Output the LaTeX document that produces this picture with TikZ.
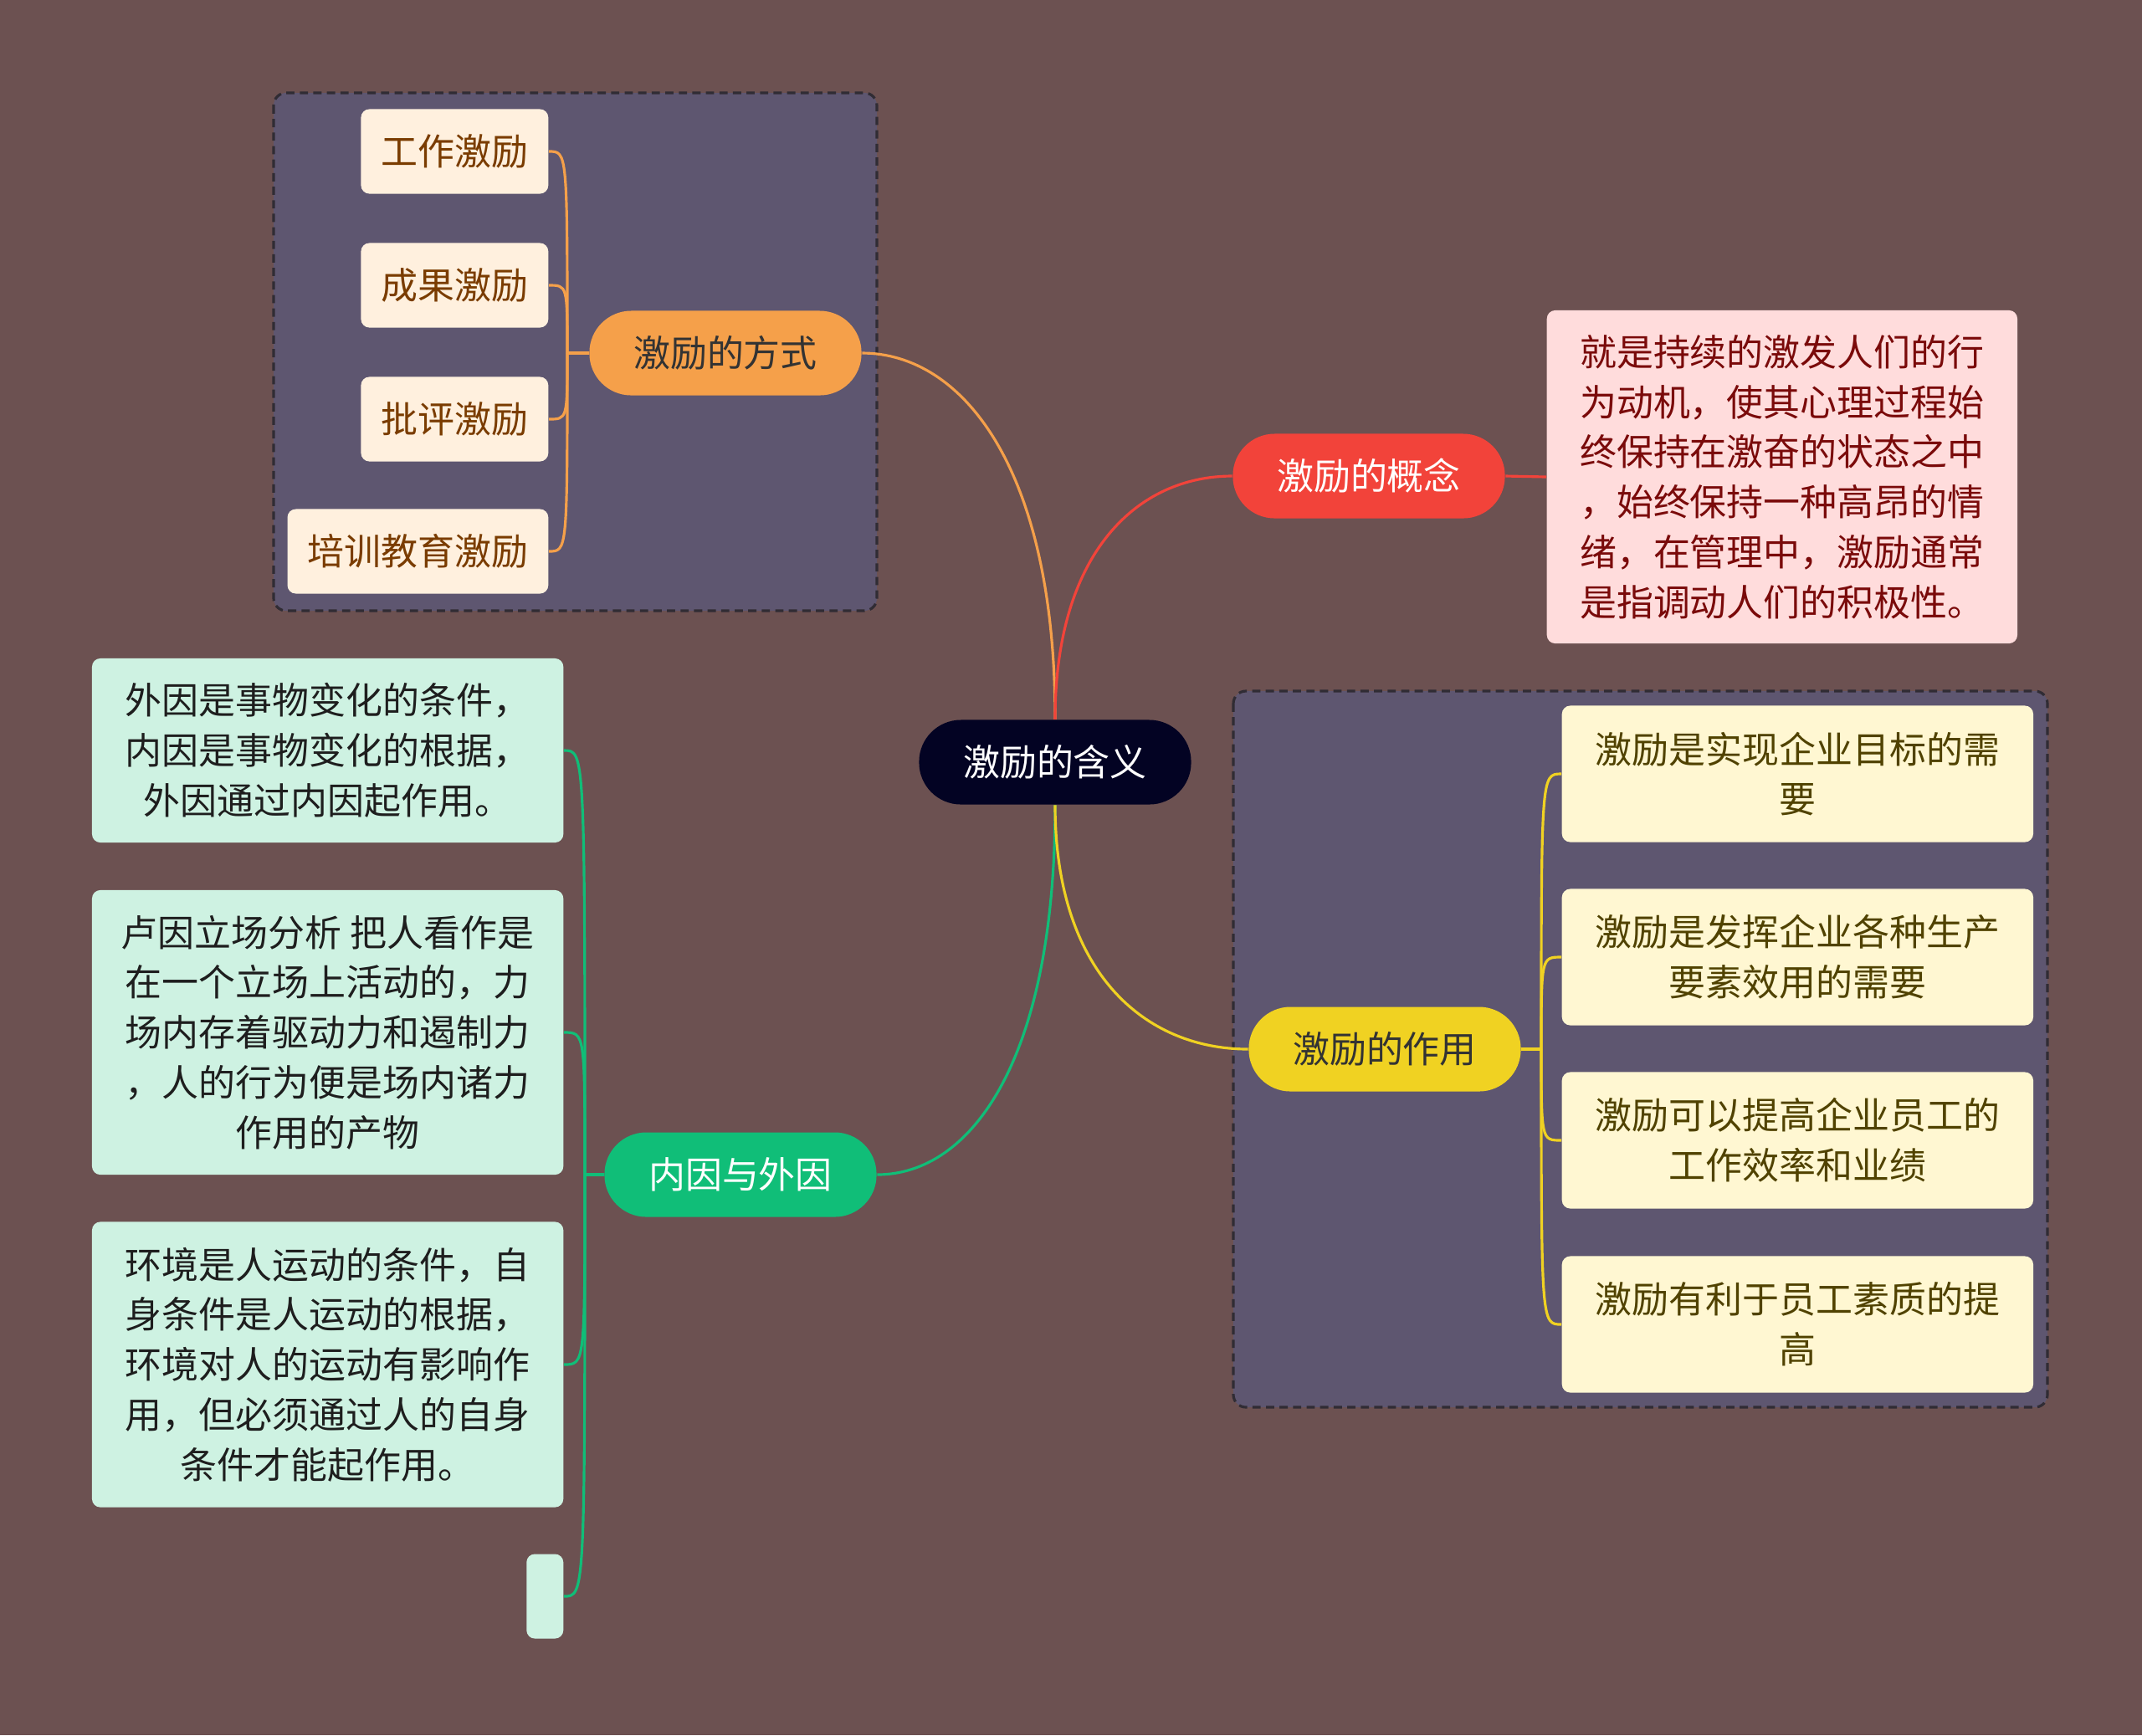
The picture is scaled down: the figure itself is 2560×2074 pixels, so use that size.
\documentclass[tikz,border=0pt]{standalone}
\usepackage{fontspec}
\setmainfont{Noto Sans CJK SC}
\usepackage{xcolor}
\definecolor{mapBg}{RGB}{108,81,81}
\definecolor{groupFill}{RGB}{94,86,112}
\definecolor{groupLine}{RGB}{48,44,52}
\definecolor{rootFill}{RGB}{3,3,35}
\definecolor{fangOrange}{RGB}{245,160,74}
\definecolor{gaiRed}{RGB}{242,67,58}
\definecolor{zuoYellow}{RGB}{240,210,34}
\definecolor{neiGreen}{RGB}{16,190,120}
\definecolor{fangLeaf}{RGB}{255,240,222}
\definecolor{fangText}{RGB}{122,60,0}
\definecolor{gaiLeaf}{RGB}{255,220,220}
\definecolor{gaiText}{RGB}{122,10,10}
\definecolor{zuoLeaf}{RGB}{255,247,210}
\definecolor{zuoText}{RGB}{80,66,0}
\definecolor{neiLeaf}{RGB}{206,242,226}
\definecolor{neiText}{RGB}{30,30,30}
\newcommand{\mmFont}{\fontsize{12.5pt}{17pt}\selectfont}
\newcommand{\mmLeafLink}[3]{%
    \draw[#1, line width=0.9pt] (#2) .. controls (#2 |- #3) .. (#3);
}

\begin{document}
\begin{tikzpicture}[x=0.01cm, y=-0.01cm,
    topic/.style={rounded corners=0.5cm, minimum width=3.25cm, minimum height=1.01cm, inner sep=0pt, font=\mmFont},
    leaf/.style={rounded corners=0.1cm, inner ysep=0pt, inner xsep=0.24cm, minimum height=1.01cm, font=\mmFont, align=center},
    group/.style={fill=groupFill, draw=groupLine, line width=0.9pt, dash pattern=on 2.8pt off 1.8pt, rounded corners=0.15cm},
    link/.style={line width=0.9pt}]
    \fill[mapBg] (0,0) rectangle (2560,2074);
    \draw[group] (327,111) rectangle (1048,730);
    \draw[group] (1474,826) rectangle (2447,1682);

    % main topics
    \node[topic, fill=rootFill, text=white] (root) at (1261,911) {激励的含义};
    \node[topic, fill=fangOrange, text=black!80] (fangshi) at (867,422) {激励的方式};
    \node[topic, fill=gaiRed, text=white] (gainian) at (1636,569) {激励的概念};
    \node[topic, fill=zuoYellow, text=black!80] (zuoyong) at (1655,1254) {激励的作用};
    \node[topic, fill=neiGreen, text=white] (neiyin) at (885,1404) {内因与外因};

    % leaves
    \foreach \n/\y/\t in {w1/181/工作激励, w2/341/成果激励, w3/501/批评激励, w4/659/培训教育激励} {
        \node[leaf, fill=fangLeaf, text=fangText, anchor=east] (\n) at (656,\y) {\t};
    }
    \node[leaf, fill=gaiLeaf, text=gaiText, anchor=west, align=left, minimum width=5.62cm, minimum height=3.98cm] (gtext) at (1848,570)
        {就是持续的激发人们的行\\为动机，使其心理过程始\\终保持在激奋的状态之中\\，始终保持一种高昂的情\\绪，在管理中，激励通常\\是指调动人们的积极性。};
    \foreach \n/\y/\t in {z1/925/{激励是实现企业目标的需\\要}, z2/1144/{激励是发挥企业各种生产\\要素效用的需要},
        z3/1363/{激励可以提高企业员工的\\工作效率和业绩}, z4/1583/{激励有利于员工素质的提\\高}} {
        \node[leaf, fill=zuoLeaf, text=zuoText, anchor=west, minimum width=5.63cm, minimum height=1.63cm] (\n) at (1866,\y) {\t};
    }
    \node[leaf, fill=neiLeaf, text=neiText, anchor=east, minimum width=5.63cm, minimum height=2.2cm] (n1) at (674,897)
        {外因是事物变化的条件，\\内因是事物变化的根据，\\外因通过内因起作用。};
    \node[leaf, fill=neiLeaf, text=neiText, anchor=east, minimum width=5.63cm, minimum height=3.4cm] (n2) at (674,1234)
        {卢因立场分析 把人看作是\\在一个立场上活动的，力\\场内存着驱动力和遏制力\\，人的行为便是场内诸力\\作用的产物};
    \node[leaf, fill=neiLeaf, text=neiText, anchor=east, minimum width=5.63cm, minimum height=3.41cm] (n3) at (674,1631)
        {环境是人运动的条件，自\\身条件是人运动的根据，\\环境对人的运动有影响作\\用，但必须通过人的自身\\条件才能起作用。};
    \node[leaf, fill=neiLeaf, inner xsep=0pt, anchor=east, minimum width=0.44cm] (n4) at (674,1908) {};

    % links from the root
    \draw[link, fangOrange] (root.north) .. controls +(0,-300) and +(120,0) .. (fangshi.east);
    \draw[link, gaiRed] (root.north) .. controls +(0,-200) and +(-113,0) .. (gainian.west);
    \draw[link, neiGreen] (root.south) .. controls +(0,304) and +(113,0) .. (neiyin.east);
    \draw[link, zuoYellow] (root.south) .. controls +(0,201) and +(-123,0) .. (zuoyong.west);

    % links to the leaves
    \coordinate (jFang) at (678,422);
    \coordinate (jZuo) at (1842,1254);
    \coordinate (jNei) at (699,1404);
    \draw[link, fangOrange] (fangshi.west) -- (jFang);
    \draw[link, zuoYellow] (zuoyong.east) -- (jZuo);
    \draw[link, neiGreen] (neiyin.west) -- (jNei);
    \draw[link, gaiRed] (gainian.east) -- (gtext.west);
    \foreach \n in {w1,w2,w3,w4} {\mmLeafLink{fangOrange}{jFang}{\n.east}}
    \foreach \n in {z1,z2,z3,z4} {\mmLeafLink{zuoYellow}{jZuo}{\n.west}}
    \foreach \n in {n1,n2,n3,n4} {\mmLeafLink{neiGreen}{jNei}{\n.east}}
\end{tikzpicture}
\end{document}
